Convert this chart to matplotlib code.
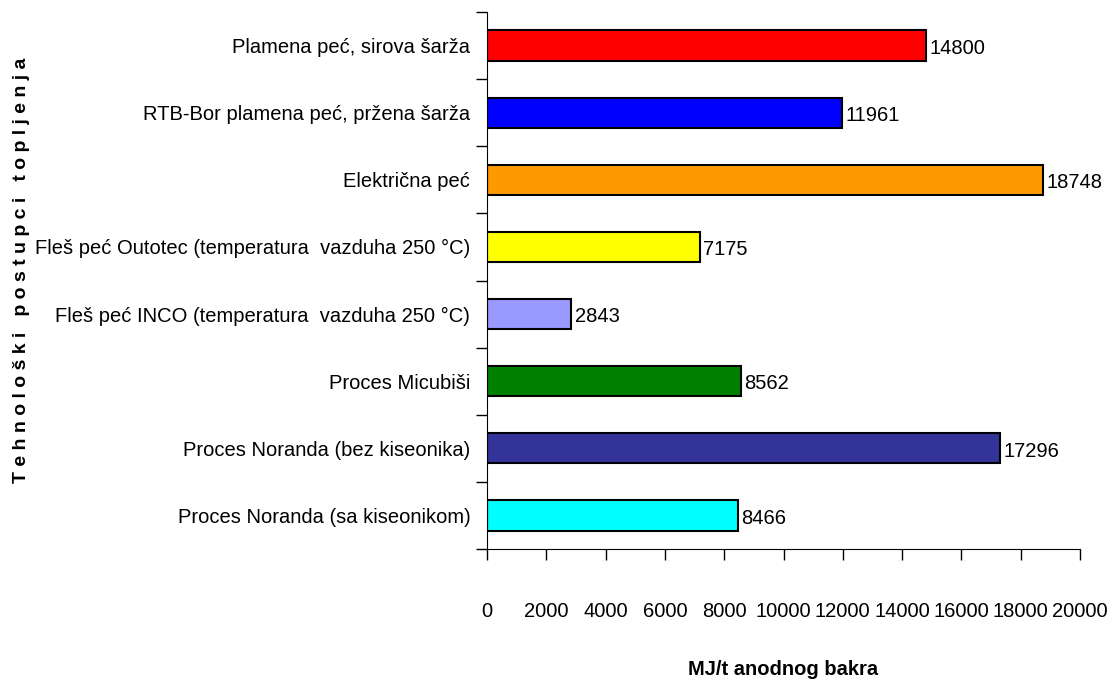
import matplotlib
matplotlib.use("Agg")
import matplotlib.pyplot as plt
import numpy as np

plt.rcParams['font.family'] = ['Liberation Sans', 'DejaVu Sans']

categories = [
    "Plamena peć, sirova šarža",
    "RTB-Bor plamena peć, pržena šarža",
    "Električna peć",
    "Fleš peć Outotec (temperatura  vazduha 250 °C)",
    "Fleš peć INCO (temperatura  vazduha 250 °C)",
    "Proces Micubiši",
    "Proces Noranda (bez kiseonika)",
    "Proces Noranda (sa kiseonikom)",
]
values = [14800, 11961, 18748, 7175, 2843, 8562, 17296, 8466]
colors = ["#FF0000", "#0000FF", "#FF9900", "#FFFF00",
          "#9999FF", "#008000", "#333399", "#00FFFF"]
xticks = list(range(0, 20001, 2000))

fig = plt.figure(figsize=(11.15, 6.85), dpi=100)
ax = fig.add_axes([0.4368, 0.1985, 0.5318, 0.784])

y = np.arange(len(categories))
ax.barh(y, values, height=0.45, color=colors, edgecolor="black", linewidth=1.5)
for yi, v in zip(y, values):
    ax.text(v + 120, yi + 0.04, str(v), va="center", ha="left", fontsize=14.5)

ax.set_ylim(len(categories) - 0.5, -0.5)
ax.set_xlim(0, 20000)
ax.set_yticks(y)
ax.set_yticklabels(categories, fontsize=14.5)
ax.set_yticks(np.arange(-0.5, len(categories)), minor=True)
ax.tick_params(axis="y", which="major", length=0, pad=12)
ax.tick_params(axis="y", which="minor", length=8, width=1, direction="out")
ax.set_xticks(xticks)
ax.set_xticklabels([str(t) for t in xticks], fontsize=14.5)
ax.tick_params(axis="x", length=8, width=1, direction="out", pad=30)

for s in ["top", "right"]:
    ax.spines[s].set_visible(False)

ax.set_xlabel("MJ/t anodnog bakra", fontsize=14.5, fontweight="bold", labelpad=28)
fig.text(0.019, 0.606, "T e h n o l o š k i   p o s t u p c i   t o p l j e n j a",
         rotation=90, va="center", ha="center", fontsize=14, fontweight="bold")

fig.savefig("out.png", dpi=100)
